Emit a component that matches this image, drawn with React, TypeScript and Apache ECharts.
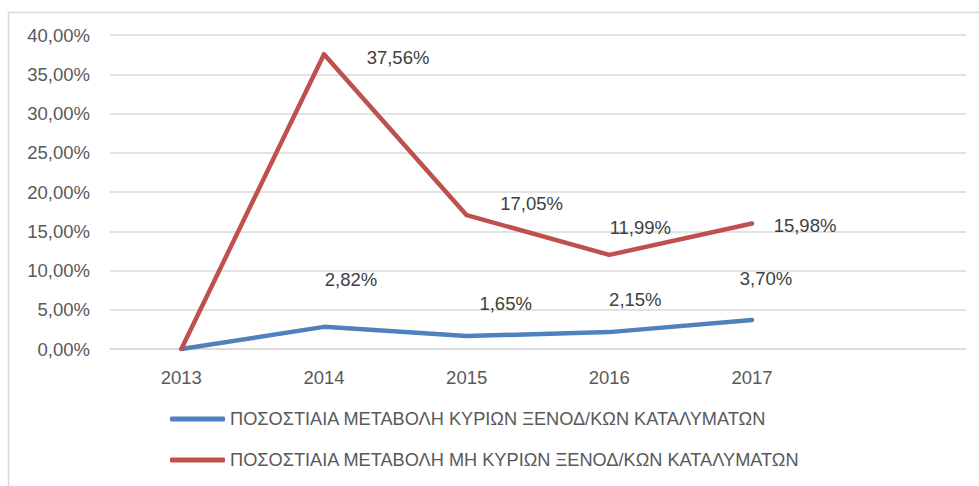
import React, { useEffect, useRef } from "react";
import * as echarts from "echarts";

const categories = ["2013", "2014", "2015", "2016", "2017", ""];
const mainValues = [0, 2.82, 1.65, 2.15, 3.7];
const otherValues = [0, 37.56, 17.05, 11.99, 15.98];
const mainName = "ΠΟΣΟΣΤΙΑΙΑ ΜΕΤΑΒΟΛΗ ΚΥΡΙΩΝ ΞΕΝΟΔ/ΚΩΝ ΚΑΤΑΛΥΜΑΤΩΝ";
const otherName = "ΠΟΣΟΣΤΙΑΙΑ ΜΕΤΑΒΟΛΗ ΜΗ ΚΥΡΙΩΝ ΞΕΝΟΔ/ΚΩΝ ΚΑΤΑΛΥΜΑΤΩΝ";

const mainLabelOffsets = [[0, 0], [27, -47], [39, -33], [26, -33], [14, -41]];
const otherLabelOffsets = [[0, 0], [74, 3], [65, -12], [31, -27], [53, 2]];

const FONT = "Liberation Sans";
const FS = 18.5;
const fmt = (v: number) => v.toFixed(2).replace(".", ",") + "%";

function build(values: number[], offsets: number[][]) {
  return values.map((v, i) => ({
    value: v,
    label: { show: i > 0, offset: offsets[i] },
  }));
}

export default function App() {
  const ref = useRef<HTMLDivElement>(null);
  useEffect(() => {
    if (!ref.current) return;
    const chart = echarts.init(ref.current, null, { renderer: "svg" });
    const labelStyle = {
      position: "inside" as const,
      fontFamily: FONT,
      fontSize: FS,
      color: "#404040",
      formatter: (p: any) => fmt(p.value),
    };
    chart.setOption({
      animation: false,
      backgroundColor: "#ffffff",
      graphic: [
        {
          type: "rect",
          shape: { x: 8.5, y: 12.5, width: 1000, height: 600 },
          style: { fill: "none", stroke: "#d9d9d9", lineWidth: 1.5 },
          silent: true,
        },
      ],
      grid: { left: 110, right: 13, top: 35, bottom: 137 },
      xAxis: {
        type: "category",
        data: categories,
        boundaryGap: true,
        axisLine: { show: true, lineStyle: { color: "#d9d9d9", width: 1.5 } },
        axisTick: { show: false },
        axisLabel: { fontFamily: FONT, fontSize: FS, color: "#595959", margin: 19 },
      },
      yAxis: {
        type: "value",
        min: 0,
        max: 40,
        interval: 5,
        axisLine: { show: false },
        axisTick: { show: false },
        splitLine: { lineStyle: { color: "#d9d9d9", width: 1.5 } },
        axisLabel: {
          fontFamily: FONT,
          fontSize: FS,
          color: "#595959",
          margin: 20,
          formatter: (v: number) => fmt(v),
        },
      },
      legend: {
        orient: "vertical",
        left: 165,
        top: 404,
        itemWidth: 55,
        itemHeight: 5,
        itemGap: 21,
        icon: "roundRect",
        textStyle: { fontFamily: FONT, fontSize: 18.2, color: "#595959", lineHeight: 20 },
        data: [mainName, otherName],
      },
      series: [
        {
          name: mainName,
          type: "line",
          data: build(mainValues, mainLabelOffsets),
          symbol: "circle",
          symbolSize: 2,
          showSymbol: true,
          color: "#4F81BD",
          lineStyle: { width: 4.5, color: "#4F81BD", cap: "round", join: "round" },
          itemStyle: { color: "#4F81BD" },
          label: labelStyle,
        },
        {
          name: otherName,
          type: "line",
          data: build(otherValues, otherLabelOffsets),
          symbol: "circle",
          symbolSize: 2,
          showSymbol: true,
          color: "#C0504D",
          lineStyle: { width: 4.5, color: "#C0504D", cap: "round", join: "round" },
          itemStyle: { color: "#C0504D" },
          label: labelStyle,
        },
      ],
    });
    return () => chart.dispose();
  }, []);
  return (
    <div
      ref={ref}
      style={{ position: "absolute", left: 0, top: 0, width: 979, height: 486 }}
    />
  );
}
